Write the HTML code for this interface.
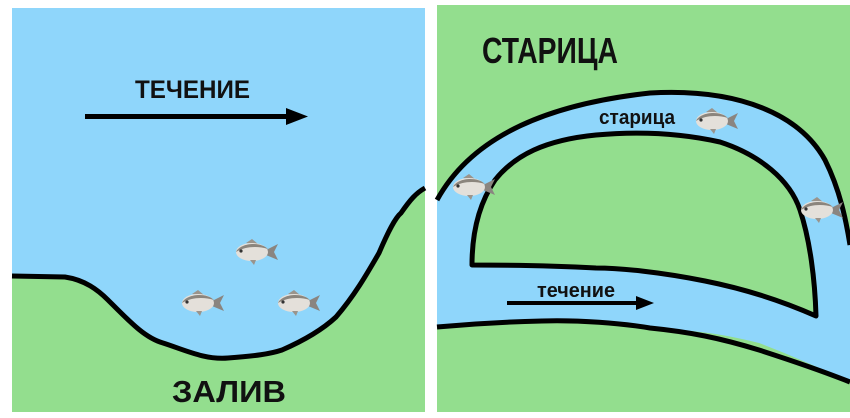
<!DOCTYPE html>
<html><head><meta charset="utf-8"><style>
html,body{margin:0;padding:0;background:#fff;width:850px;height:418px;overflow:hidden}
svg{display:block}
text{font-family:"Liberation Sans Narrow","Liberation Sans",sans-serif;font-weight:bold;fill:#111}
</style></head><body>
<svg width="850" height="418" viewBox="0 0 850 418" xmlns="http://www.w3.org/2000/svg">
<defs>
<g id="fish">
<path d="M28,-2 L40,-8 L36,0 L40,8 L28,3 Z" fill="#8a8580"/>
<path d="M8,-9 L14,-13 L20,-8 Z" fill="#9a948c"/>
<ellipse cx="14" cy="0" rx="16" ry="9" fill="#e4e0da"/>
<path d="M-2,0 C2,-9 22,-11 30,-3 C20,-6 8,-6 -2,0Z" fill="#8b857d"/>
<circle cx="3" cy="-1" r="1.6" fill="#333"/>
<path d="M12,8 L16,13 L18,8Z" fill="#9a948c"/>
</g>
</defs>
<!-- left panel -->
<rect x="12" y="8" width="413" height="404" fill="#8fd6fb"/>
<path d="M12,276 L65,277 C85,280 98,290 108,300 C130,322 145,338 163,343 C185,350 205,360 228,358 C255,356 270,354 282,350 C305,340 322,330 336,317 C355,295 368,272 379,253 C388,232 395,218 401,213 C410,200 416,193 425,188 L425,412 L12,412 Z" fill="#93de8e"/>
<path d="M12,276 L65,277 C85,280 98,290 108,300 C130,322 145,338 163,343 C185,350 205,360 228,358 C255,356 270,354 282,350 C305,340 322,330 336,317 C355,295 368,272 379,253 C388,232 395,218 401,213 C410,200 416,193 425,188" fill="none" stroke="#000" stroke-width="5"/>
<text x="135" y="98" font-size="25" textLength="115" lengthAdjust="spacingAndGlyphs">ТЕЧЕНИЕ</text>
<rect x="85" y="114" width="205" height="5" fill="#000"/>
<path d="M286,108 L308,116.5 L286,125 Z" fill="#000"/>
<text x="172" y="402" font-size="31" textLength="114" lengthAdjust="spacingAndGlyphs">ЗАЛИВ</text>
<use href="#fish" x="238" y="252"/>
<use href="#fish" x="184" y="303"/>
<use href="#fish" x="280" y="303"/>
<!-- right panel -->
<rect x="437" y="5" width="413" height="407" fill="#93de8e"/>
<path d="M437,200 C470,140 540,105 650,93 C740,88 800,115 825,160 C840,190 846,220 850,245 L850,382 C820,368 790,355 759,343 C720,333 690,330 650,328 C600,323 560,320 542,321 C500,322 470,324 437,327 Z" fill="#8fd6fb"/>
<path d="M472,265 C472,235 478,205 495,180 C515,155 545,140 596,135 C640,131 680,133 720,142 C760,155 790,180 800,210 C810,240 815,280 816,316 C780,300 740,288 705,281 C660,272 620,268 596,268 C560,266 520,265 472,265 Z" fill="#93de8e" stroke="#000" stroke-width="5" stroke-linejoin="round"/>
<path d="M437,200 C470,140 540,105 650,93 C740,88 800,115 825,160 C840,190 846,220 850,245" fill="none" stroke="#000" stroke-width="5"/>
<path d="M437,327 C470,324 500,322 542,321 C580,320 620,323 650,328 C690,332 720,338 759,350 C790,360 820,370 850,382" fill="none" stroke="#000" stroke-width="5"/>
<text x="482" y="63" font-size="36" textLength="136" lengthAdjust="spacingAndGlyphs">СТАРИЦА</text>
<text x="599" y="124" font-size="20" textLength="76" lengthAdjust="spacingAndGlyphs">старица</text>
<text x="537" y="297" font-size="20" textLength="78" lengthAdjust="spacingAndGlyphs">течение</text>
<rect x="507" y="301" width="132" height="4" fill="#000"/>
<path d="M636,296 L654,303 L636,310 Z" fill="#000"/>
<use href="#fish" x="698" y="121"/>
<use href="#fish" x="455" y="187"/>
<use href="#fish" x="803" y="210"/>
</svg>
</body></html>
